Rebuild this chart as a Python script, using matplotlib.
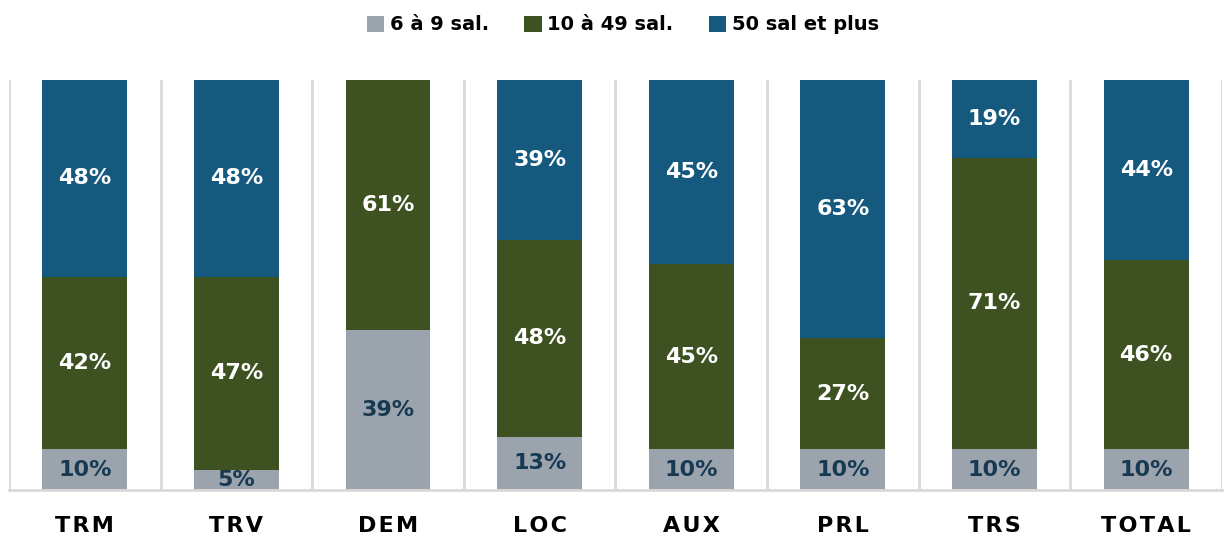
import matplotlib.pyplot as plt
import numpy as np

# données
categories = ["TRM", "TRV", "DEM", "LOC", "AUX", "PRL", "TRS", "TOTAL"]
small = [10, 5, 39, 13, 10, 10, 10, 10]
medium = [42, 47, 61, 48, 45, 27, 71, 46]
large = [48, 48, 0, 39, 45, 63, 19, 44]
series_names = ["6 à 9 sal.", "10 à 49 sal.", "50 sal et plus"]

colors = ["#9BA3AD", "#3D5220", "#155A7E"]
text_colors = ["#173A52", "white", "white"]

plt.rcParams['font.family'] = ['DejaVu Sans']

fig = plt.figure(figsize=(12.26, 5.39), dpi=100)
ax = fig.add_axes([0.0073, 0.0909, 0.9894, 0.7607])

x = np.arange(len(categories))
bottom = np.zeros(len(categories))
for vals, col, tcol, name in zip([small, medium, large], colors, text_colors, series_names):
    vals = np.array(vals, dtype=float)
    ax.bar(x, vals, width=0.56, bottom=bottom, color=col, label=name, zorder=2)
    for xi, b, v in zip(x, bottom, vals):
        if v > 0:
            ax.text(xi, b + v / 2, f"{int(v)}%", ha="center", va="center",
                    color=tcol, fontsize=16, fontweight="bold", zorder=3)
    bottom += vals

# séparateurs verticaux
for s in np.arange(-0.5, len(categories), 1):
    ax.axvline(s, color="#D9D9D9", lw=2, zorder=1)

ax.set_xlim(-0.5, len(categories) - 0.5)
ax.set_ylim(0, 100)
ax.set_yticks([])
ax.set_xticks(x)
ax.set_xticklabels(["\u200a".join(c) for c in categories], fontsize=16, fontweight="bold")
ax.tick_params(axis="x", length=0, pad=19)
for sp in ["top", "left", "right"]:
    ax.spines[sp].set_visible(False)
ax.spines["bottom"].set_color("#D9D9D9")
ax.spines["bottom"].set_linewidth(2)

fig.legend(loc="upper center", bbox_to_anchor=(0.508, 1.004), ncol=3, frameon=False,
           prop={"size": 14, "weight": "bold"}, handlelength=0.9, handleheight=0.9,
           handletextpad=0.3, columnspacing=1.8)

fig.savefig("out.png", dpi=100)
